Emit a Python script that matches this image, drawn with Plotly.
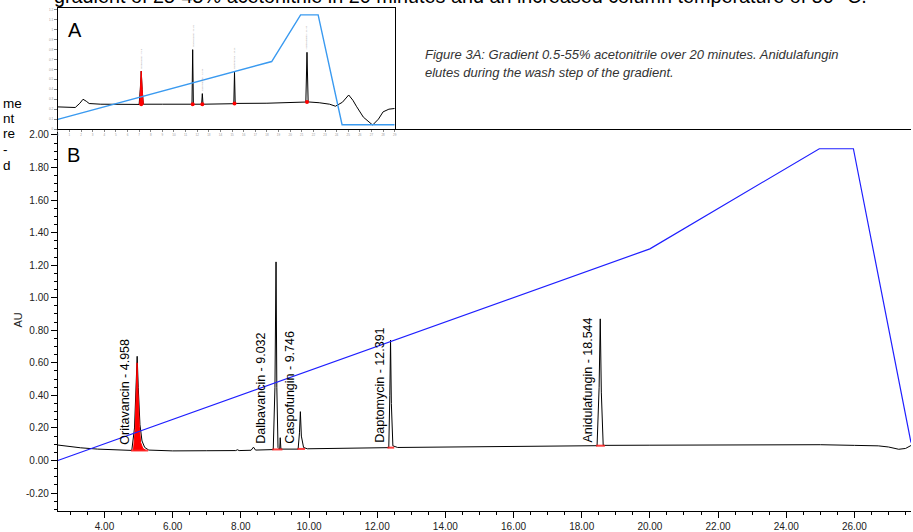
import plotly.graph_objects as go

W, H = 913, 532
FONT = "Arial, Liberation Sans, sans-serif"

# ---------------- Panel B data (minutes, AU) ----------------
b_time = [2.63, 2.9, 3.3, 3.8, 4.2, 4.6, 4.80, 4.88, 4.93, 4.958, 4.99, 5.04, 5.10, 5.18, 5.30,
          5.6, 6.0, 7.0, 7.85, 7.9, 7.95, 8.3, 8.37, 8.43, 8.95, 9.00, 9.032, 9.055, 9.09,
          9.14, 9.155, 9.175, 9.68, 9.72, 9.746, 9.775, 9.84, 9.95, 11.0, 12.0, 12.34, 12.37,
          12.391, 12.415, 12.46, 12.6, 14.0, 16.0, 18.45, 18.51, 18.544, 18.575, 18.63, 20.0,
          22.0, 23.5, 25.0, 26.0, 26.7, 27.0, 27.3, 27.5, 27.66]
b_au = [0.095, 0.088, 0.078, 0.070, 0.066, 0.063, 0.062, 0.20, 0.48, 0.64, 0.45, 0.22, 0.12, 0.08, 0.064,
        0.060, 0.059, 0.060, 0.061, 0.066, 0.061, 0.063, 0.082, 0.064, 0.067, 0.45, 1.22, 0.45, 0.08,
        0.069, 0.14, 0.070, 0.070, 0.17, 0.30, 0.15, 0.08, 0.072, 0.074, 0.077, 0.079, 0.40,
        0.74, 0.35, 0.09, 0.080, 0.083, 0.087, 0.091, 0.45, 0.87, 0.42, 0.093, 0.094,
        0.097, 0.099, 0.097, 0.093, 0.090, 0.083, 0.069, 0.074, 0.092]

# Oritavancin integrated peak (red)
ori_time = [4.85, 4.90, 4.935, 4.955, 4.98, 5.02, 5.06, 5.12, 5.20, 4.85]
ori_au = [0.062, 0.19, 0.45, 0.60, 0.44, 0.21, 0.11, 0.075, 0.063, 0.062]

# integration baselines (red)
seg_start = [4.78, 8.92, 9.66, 12.30, 18.42]
seg_end = [5.28, 9.22, 9.88, 12.50, 18.68]
seg_au = [0.062, 0.068, 0.071, 0.079, 0.091]

# gradient trace B
grad_time = [2.63, 20.0, 24.97, 25.97, 27.66]
grad_au = [0.0, 1.30, 1.915, 1.915, 0.11]

peak_names = ["Oritavancin - 4.958", "Dalbavancin - 9.032", "Caspofungin - 9.746",
              "Daptomycin - 12.391", "Anidulafungin - 18.544"]
label_time = [4.60, 8.60, 9.45, 12.06, 18.18]
label_au = [0.085, 0.09, 0.09, 0.095, 0.10]

y_tick_vals = [-0.2, 0.0, 0.2, 0.4, 0.6, 0.8, 1.0, 1.2, 1.4, 1.6, 1.8, 2.0]
y_tick_text = ["-0.20", "0.00", "0.20", "0.40", "0.60", "0.80", "1.00", "1.20", "1.40",
               "1.60", "1.80", "2.00"]
x_tick_vals = [4, 6, 8, 10, 12, 14, 16, 18, 20, 22, 24, 26]
x_tick_text = ["4.00", "6.00", "8.00", "10.00", "12.00", "14.00", "16.00", "18.00",
               "20.00", "22.00", "24.00", "26.00"]

# ---------------- Panel A (inset) data ----------------
a_time = [0.0, 0.8, 1.5, 1.9, 2.17, 2.45, 2.7, 3.7, 5.0, 7.0, 7.10, 7.18, 7.26, 7.36, 9.0,
          11.55, 11.61, 11.67, 12.38, 12.44, 12.50, 15.15, 15.21, 15.27, 18.0, 20.0, 21.35,
          21.45, 21.55, 22.5, 23.4, 23.9, 24.5, 25.04, 25.4, 25.7, 26.3, 27.1, 27.6, 28.0,
          28.5, 29.0]
a_val = [0.223, 0.22, 0.217, 0.26, 0.30, 0.28, 0.257, 0.25, 0.248, 0.248, 0.40, 0.583, 0.40,
         0.25, 0.25, 0.25, 0.80, 0.25, 0.25, 0.357, 0.25, 0.255, 0.573, 0.258, 0.26, 0.265,
         0.272, 0.773, 0.273, 0.265, 0.25, 0.23, 0.27, 0.343, 0.29, 0.23, 0.12, 0.04, 0.10,
         0.173, 0.20, 0.207]
a_red_time = [7.05, 7.10, 7.18, 7.26, 7.36, 7.05]
a_red_val = [0.248, 0.40, 0.583, 0.40, 0.25, 0.248]
a_base_time = [7.18, 11.61, 12.44, 15.21, 21.45]
a_base_val = [0.25, 0.25, 0.25, 0.258, 0.272]
a_grad_time = [0.0, 18.41, 20.9, 22.41, 24.47, 29.0]
a_grad_val = [0.097, 0.68, 1.15, 1.15, 0.043, 0.043]
a_label_text = ["Oritavancin - 7.18", "Dalbavancin - 11.61", "Caspofungin - 12.44",
                "Daptomycin - 15.21", "Anidulafungin - 21.45"]
a_label_val = [0.59, 0.81, 0.36, 0.58, 0.78]

fig = go.Figure()

# Panel B traces
fig.add_trace(go.Scatter(x=b_time, y=b_au, mode="lines",
                         line=dict(color="black", width=1), xaxis="x", yaxis="y"))
fig.add_trace(go.Scatter(x=ori_time, y=ori_au, mode="lines", fill="toself",
                         fillcolor="#ff0000", line=dict(color="#ff0000", width=1),
                         xaxis="x", yaxis="y"))
sx, sy = [], []
for s, e, v in zip(seg_start, seg_end, seg_au):
    sx += [s, e, None]
    sy += [v, v, None]
fig.add_trace(go.Scatter(x=sx, y=sy, mode="lines",
                         line=dict(color="rgba(255,30,30,0.85)", width=2),
                         xaxis="x", yaxis="y"))
fig.add_trace(go.Scatter(x=grad_time, y=grad_au, mode="lines",
                         line=dict(color="#1f1fff", width=1.2), xaxis="x", yaxis="y"))

# Panel A traces
fig.add_trace(go.Scatter(x=a_time, y=a_val, mode="lines",
                         line=dict(color="black", width=1), xaxis="x2", yaxis="y2"))
fig.add_trace(go.Scatter(x=a_red_time, y=a_red_val, mode="lines", fill="toself",
                         fillcolor="#ff0000", line=dict(color="#ff0000", width=1),
                         xaxis="x2", yaxis="y2"))
fig.add_trace(go.Scatter(x=a_base_time, y=a_base_val, mode="markers",
                         marker=dict(color="#ff0000", size=4), xaxis="x2", yaxis="y2"))
fig.add_trace(go.Scatter(x=a_grad_time, y=a_grad_val, mode="lines",
                         line=dict(color="#3a9af0", width=1.4), xaxis="x2", yaxis="y2"))

ann = []
for t, v, name in zip(label_time, label_au, peak_names):
    ann.append(dict(x=t, y=v, xref="x", yref="y", text=name, textangle=-90,
                    showarrow=False, xanchor="center", yanchor="bottom",
                    font=dict(family=FONT, size=12.5, color="black")))
for t, v, name in zip(a_base_time, a_label_val, a_label_text):
    ann.append(dict(x=t, y=v, xref="x2", yref="y2", text=name, textangle=-90,
                    showarrow=False, xanchor="center", yanchor="bottom",
                    font=dict(family=FONT, size=2.5, color="#999999")))

def px(x):
    return x / W

def py(y):
    return 1 - y / H

ann += [
    dict(x=px(9), y=py(321), xref="paper", yref="paper", text="AU", textangle=-90,
         showarrow=False, font=dict(family=FONT, size=11, color="#222")),
    dict(x=px(64), y=py(155), xref="paper", yref="paper", text="B", showarrow=False,
         xanchor="left", yanchor="middle", font=dict(family=FONT, size=20, color="black")),
    dict(x=px(65), y=py(29), xref="paper", yref="paper", text="A", showarrow=False,
         xanchor="left", yanchor="middle", font=dict(family=FONT, size=20, color="black")),
    dict(x=px(423), y=py(54), xref="paper", yref="paper",
         text="<i>Figure 3A: Gradient 0.5-55% acetonitrile over 20 minutes. Anidulafungin</i>",
         showarrow=False, xanchor="left", yanchor="middle",
         font=dict(family=FONT, size=13, color="#333")),
    dict(x=px(423), y=py(72), xref="paper", yref="paper",
         text="<i>elutes during the wash step of the gradient.</i>",
         showarrow=False, xanchor="left", yanchor="middle",
         font=dict(family=FONT, size=13, color="#333")),
    dict(x=px(51), y=py(8.5), xref="paper", yref="paper",
         text="gradient of 25-45% acetonitrile in 20 minutes and an increased column temperature of 50 °C.",
         showarrow=False, xanchor="left", yanchor="bottom",
         font=dict(family=FONT, size=19.8, color="black")),
]
for frag, yy in zip(["me", "nt", "re", "-", "d"], [103, 118, 134, 150, 166]):
    ann.append(dict(x=0, y=py(yy), xref="paper", yref="paper", text=frag, showarrow=False,
                    xanchor="left", yanchor="middle",
                    font=dict(family=FONT, size=13.5, color="black")))

fig.update_layout(
    width=W, height=H,
    margin=dict(l=0, r=0, t=0, b=0, pad=0),
    paper_bgcolor="white", plot_bgcolor="white",
    showlegend=False,
    font=dict(family=FONT),
    annotations=ann,
    xaxis=dict(domain=[px(57), 1.0], range=[2.63, 27.66], anchor="y",
               showline=True, linecolor="black", linewidth=1, mirror=True,
               ticks="outside", ticklen=6, tickcolor="black",
               tickvals=x_tick_vals, ticktext=x_tick_text,
               minor=dict(dtick=0.5, tick0=0, ticks="outside", ticklen=3, tickcolor="black"),
               showgrid=False, zeroline=False,
               tickfont=dict(family=FONT, size=10, color="#222")),
    yaxis=dict(domain=[py(514), py(130)], range=[-0.311, 2.030], anchor="x",
               showline=True, linecolor="black", linewidth=1,
               ticks="outside", ticklen=6, tickcolor="black",
               tickvals=y_tick_vals, ticktext=y_tick_text,
               minor=dict(dtick=0.05, tick0=0, ticks="outside", ticklen=3, tickcolor="black"),
               showgrid=False, zeroline=False,
               tickfont=dict(family=FONT, size=10, color="#222")),
    xaxis2=dict(domain=[px(57), px(395)], range=[0, 29], anchor="y2",
                showline=True, linecolor="black", linewidth=1, mirror=True,
                ticks="outside", ticklen=2, tickcolor="#888", dtick=1,
                showgrid=False, zeroline=False,
                tickfont=dict(family=FONT, size=3, color="#999")),
    yaxis2=dict(domain=[py(129), py(7)], range=[0, 1.22], anchor="x2",
                showline=True, linecolor="black", linewidth=1, mirror=True,
                ticks="outside", ticklen=3, tickcolor="#888", dtick=0.1,
                showgrid=False, zeroline=False,
                tickfont=dict(family=FONT, size=3, color="#999")),
)

fig.write_html("out.html", config={"displayModeBar": False},
               post_script="document.body.style.margin='0px';")
